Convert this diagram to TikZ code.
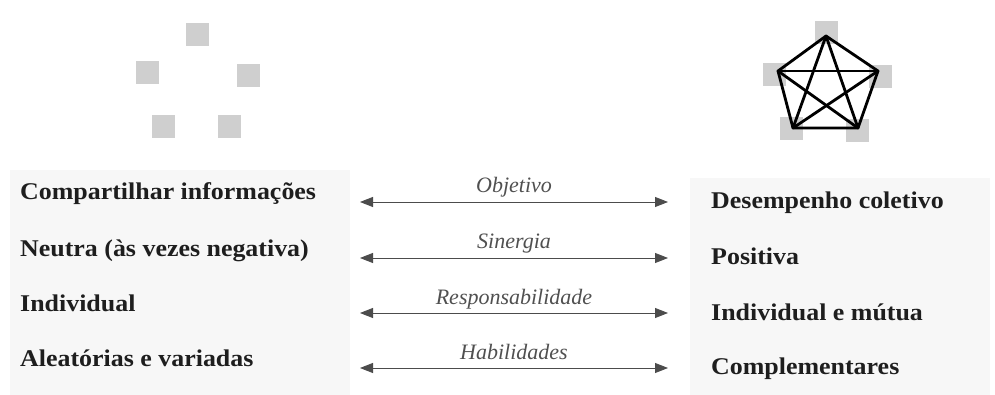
\documentclass[tikz,border=0pt]{standalone}
\usepackage{fontspec}
\setmainfont{Liberation Serif}
\newfontfamily\itemfont[FakeStretch=1.08]{Liberation Serif}
\usetikzlibrary{arrows.meta}
\definecolor{sqgray}{HTML}{CFCFCF}
\definecolor{txt}{HTML}{1E1E1E}
\definecolor{lbl}{HTML}{505050}
\definecolor{panel}{HTML}{F7F7F7}
\begin{document}
\begin{tikzpicture}[x=1pt,y=-1pt,
  sq/.style={fill=sqgray,draw=none,minimum size=23pt,inner sep=0pt},
  item/.style={anchor=base west,font=\itemfont\fontsize{24}{28}\selectfont\bfseries,text=txt,inner sep=0pt},
  lab/.style={anchor=base,font=\fontsize{22}{26}\selectfont\itshape,text=lbl,inner sep=0pt,yshift=9pt},
  dbl/.style={draw=black!70,line width=0.9pt,{Triangle[length=13pt,width=10pt]}-{Triangle[length=13pt,width=10pt]}},
  pent/.style={line width=2.8pt,line join=round,line cap=round,black}]
\useasboundingbox (0,0) rectangle (995,395);
\fill[white] (0,0) rectangle (995,395);
% panels
\fill[panel] (10,170) rectangle (350,395);
\fill[panel] (690,178) rectangle (990,395);
% left scattered squares
\node[sq] (l1) at (197,35) {};
\node[sq] (l2) at (147,73) {};
\node[sq] (l3) at (248,76) {};
\node[sq] (l4) at (163,127) {};
\node[sq] (l5) at (229,127) {};
% right squares
\node[sq] (r1) at (826,33) {};
\node[sq] (r2) at (774,75) {};
\node[sq] (r3) at (880,77) {};
\node[sq] (r4) at (791,129) {};
\node[sq] (r5) at (857,131) {};
% pentagon vertices
\coordinate (p1) at (826,36);
\coordinate (p2) at (778,71);
\coordinate (p3) at (878,71);
\coordinate (p4) at (793,128);
\coordinate (p5) at (858,128);
\draw[pent] (p1) -- (p3) -- (p5) -- (p4) -- (p2) -- cycle;
\draw[pent] (p1) -- (p4);
\draw[pent] (p1) -- (p5);
\draw[pent] (p2) -- (p3);
\draw[pent] (p2) -- (p5);
\draw[pent] (p3) -- (p4);
% left texts
\node[item] (a1) at (20,200) {Compartilhar informações};
\node[item] (a2) at (20,256) {Neutra (às vezes negativa)};
\node[item] (a3) at (20,311) {Individual};
\node[item] (a4) at (20,366) {Aleatórias e variadas};
% right texts
\node[item] (b1) at (711,209) {Desempenho coletivo};
\node[item] (b2) at (711,265) {Positiva};
\node[item] (b3) at (711,320) {Individual e mútua};
\node[item] (b4) at (711,374) {Complementares};
% arrows
\coordinate (u1) at (360,202); \coordinate (v1) at (668,202);
\coordinate (u2) at (360,258); \coordinate (v2) at (668,258);
\coordinate (u3) at (360,313); \coordinate (v3) at (668,313);
\coordinate (u4) at (360,368); \coordinate (v4) at (668,368);
\draw[dbl] (u1) -- node[lab] {Objetivo} (v1);
\draw[dbl] (u2) -- node[lab] {Sinergia} (v2);
\draw[dbl] (u3) -- node[lab] {Responsabilidade} (v3);
\draw[dbl] (u4) -- node[lab] {Habilidades} (v4);
\end{tikzpicture}
\end{document}
